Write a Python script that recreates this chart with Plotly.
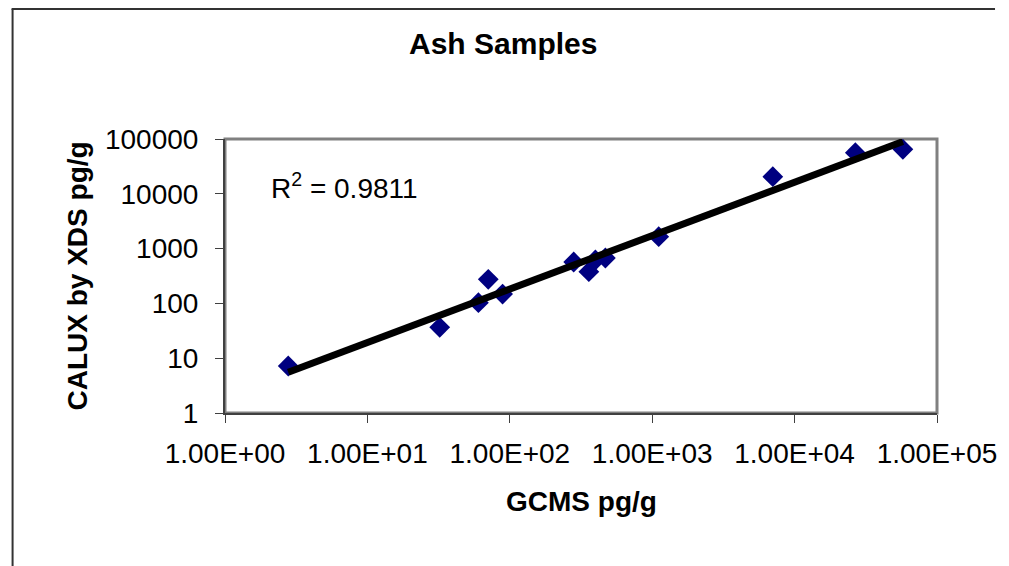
import numpy as np
import plotly.graph_objects as go

# Data (GCMS pg/g vs CALUX by XDS pg/g)
gcms = [2.78, 32.2, 60.2, 70.6, 89, 281, 359, 399, 469, 1111, 7030, 26700, 57600]
calux = [7.2, 36.6, 103, 275, 148, 569, 379, 620, 674, 1650, 20500, 56200, 64900]
x_tickvals = [1, 10, 100, 1000, 10000, 100000]
x_ticktext = ["1.00E+00", "1.00E+01", "1.00E+02", "1.00E+03", "1.00E+04", "1.00E+05"]
y_tickvals = [1, 10, 100, 1000, 10000, 100000]
y_ticktext = ["1", "10", "100", "1000", "10000", "100000"]
r2_text = "R<sup>2</sup> = 0.9811"

# Power trendline (least squares in log-log space, like Excel's power trend)
lx = np.log10(gcms)
ly = np.log10(calux)
b, a = np.polyfit(lx, ly, 1)
tx = np.sort(np.array(gcms, dtype=float))
ty = 10 ** (a + b * np.log10(tx))

# The page body has an 8px margin: build the figure 8px smaller and
# express target positions in page pixels.
OFF = 8
W, H = 1009 - OFF, 566 - OFF
L, R, T, B = 225 - OFF, 60, 139 - OFF, 153
pw, ph = W - L - R, H - T - B

def px(xp):
    return (xp - OFF - L) / pw

def py(yp):
    return (H - B - (yp - OFF)) / ph

FONT = "Liberation Sans, Arial, sans-serif"

fig = go.Figure()
fig.add_trace(go.Scatter(x=gcms, y=calux, mode="markers",
                         marker=dict(symbol="diamond", size=16, color="#000080",
                                     line=dict(width=0)),
                         showlegend=False))
fig.add_trace(go.Scatter(x=tx, y=ty, mode="lines",
                         line=dict(color="black", width=7),
                         showlegend=False))

axis_common = dict(type="log", range=[0, 5], showgrid=False, zeroline=False,
                   showline=True, linecolor="#404040", linewidth=2,
                   ticks="outside", ticklen=8, tickwidth=1, tickcolor="#404040",
                   ticklabeloverflow="allow",
                   tickfont=dict(family=FONT, size=28, color="black"))
fig.update_xaxes(tickvals=x_tickvals, ticktext=x_ticktext, ticklabelstandoff=6,
                 **axis_common)
fig.update_yaxes(tickvals=y_tickvals, ticktext=y_ticktext, ticklabelstandoff=11,
                 **axis_common)

shapes = [
    dict(type="rect", xref="paper", yref="paper", x0=0, x1=1, y0=0, y1=1,
         line=dict(color="#808080", width=3), layer="below"),
    dict(type="line", xref="paper", yref="paper", x0=px(8), x1=px(1008), y0=py(9), y1=py(9),
         line=dict(color="#333333", width=2)),
    dict(type="line", xref="paper", yref="paper", x0=px(9), x1=px(9), y0=py(9), y1=py(580),
         line=dict(color="#333333", width=2)),
]

annotations = [
    dict(text="<b>Ash Samples</b>", xref="paper", yref="paper", x=px(508), y=py(43),
         xanchor="center", yanchor="middle", showarrow=False,
         font=dict(family=FONT, size=30, color="black")),
    dict(text="<b>GCMS pg/g</b>", xref="paper", yref="paper", x=0.5, y=py(501),
         xanchor="center", yanchor="middle", showarrow=False,
         font=dict(family=FONT, size=28, color="black")),
    dict(text="<b>CALUX by XDS pg/g</b>", xref="paper", yref="paper", x=px(75), y=0.5,
         xanchor="center", yanchor="middle", showarrow=False, textangle=-90,
         font=dict(family=FONT, size=28, color="black")),
    dict(text=r2_text, xref="paper", yref="paper", x=px(270), y=py(186),
         xanchor="left", yanchor="middle", showarrow=False,
         font=dict(family=FONT, size=28, color="black")),
]

fig.update_layout(width=W, height=H, margin=dict(l=L, r=R, t=T, b=B),
                  paper_bgcolor="white", plot_bgcolor="white",
                  shapes=shapes, annotations=annotations)

fig.write_html("out.html")
